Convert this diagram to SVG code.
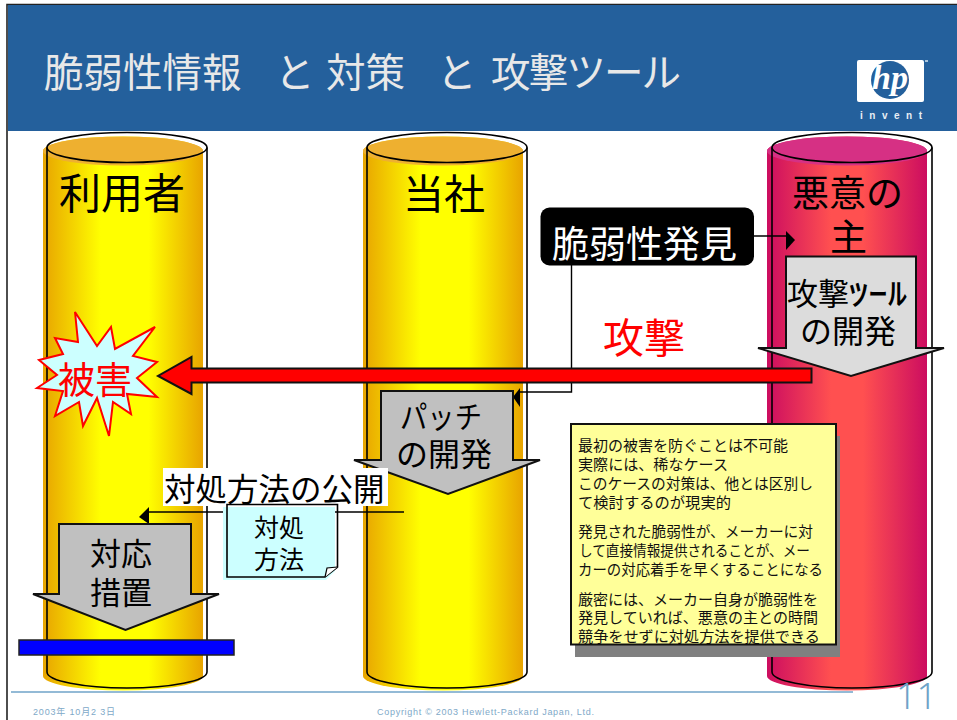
<svg xmlns="http://www.w3.org/2000/svg" width="957" height="720" viewBox="0 0 957 720">
<style>
text{font-family:"Noto Sans CJK JP","Liberation Sans",sans-serif;fill:#000}
.o{fill:none;stroke:#000;stroke-width:1.6}
.ga{fill:#c0c0c0;stroke:#111;stroke-width:2}
.line{fill:none;stroke:#000;stroke-width:1.4}
.note{font-size:15px;fill:#111}
.foot{font-family:"Liberation Sans","Noto Sans CJK JP",sans-serif;font-size:9px;fill:#80a9c8}
</style>
<defs>
<linearGradient id="y"><stop offset="0" stop-color="#e8a400"/><stop offset=".36" stop-color="#ffff00"/><stop offset=".66" stop-color="#ffff00"/><stop offset="1" stop-color="#e8a400"/></linearGradient>
<linearGradient id="r"><stop offset="0" stop-color="#cc0d60"/><stop offset=".4" stop-color="#ff5050"/><stop offset=".6" stop-color="#ff5050"/><stop offset="1" stop-color="#cc0d60"/></linearGradient>
</defs>
<rect width="957" height="720" fill="#fff"/>
<path d="M7 720V4.500H957" fill="none" stroke="#222" stroke-width="1.600"/>
<rect x="8" y="5" width="949" height="126" fill="#24609c"/>
<text id="title" y="87" font-size="39.500" style="fill:#e8e8e8"><tspan x="44">脆弱性情報 </tspan><tspan x="275">と </tspan><tspan x="326">対策 </tspan><tspan x="437">と </tspan><tspan x="491" textLength="190">攻撃ツール</tspan></text>
<g id="logo">
<rect x="857" y="60" width="67" height="42" rx="2" fill="#fff"/>
<circle cx="890" cy="80" r="19" fill="#24609c"/>
<text x="890" y="89" text-anchor="middle" font-size="34" font-weight="700" font-style="italic" style="font-family:'Liberation Serif',serif;fill:#fff">hp</text>
<rect x="925" y="60" width="3" height="2" fill="#a8c4dc"/>
<text x="860" y="119" font-size="10" font-weight="700" textLength="62" style="font-family:'Liberation Sans',sans-serif;fill:#e8eef4">invent</text>
</g>
<g id="cyl-user">
<path d="M43 151A80 14.500 0 0 1 203 151V676A80 14.500 0 0 1 43 676Z" fill="url(#y)"/>
<ellipse cx="123" cy="151" rx="80" ry="14.500" fill="#eeb030"/>
<path class="o" d="M47 147.500V672A80 16 0 0 0 207 672V147.500"/>
<ellipse class="o" cx="127" cy="147.500" rx="80" ry="15"/>
<text x="59" y="209" font-size="42">利用者</text>
</g>
<g id="cyl-company">
<path d="M363 151A80 14.500 0 0 1 523 151V676A80 14.500 0 0 1 363 676Z" fill="url(#y)"/>
<ellipse cx="443" cy="151" rx="80" ry="14.500" fill="#eeb030"/>
<path class="o" d="M367 147.500V672A80 16 0 0 0 527 672V147.500"/>
<ellipse class="o" cx="447" cy="147.500" rx="80" ry="15"/>
<text x="403" y="209" font-size="41">当社</text>
</g>
<g id="cyl-attacker">
<path d="M767 151A80 14.500 0 0 1 927 151V676A80 14.500 0 0 1 767 676Z" fill="url(#r)"/>
<ellipse cx="847" cy="151" rx="80" ry="14.500" fill="#d63084"/>
<path class="o" d="M772 147.500V672A80 16 0 0 0 932 672V147.500"/>
<ellipse class="o" cx="852" cy="147.500" rx="80" ry="15"/>
<text x="792" y="207" font-size="37">悪意の</text>
<text x="830" y="251" font-size="37">主</text>
</g>
<g id="tool-dev">
<path d="M786 256.500H916V348H944L851 376L758 348H786Z" fill="#dcdcdc" stroke="#111" stroke-width="2"/>
<text x="787" y="305" font-size="31">攻撃<tspan textLength="58" lengthAdjust="spacingAndGlyphs" font-weight="500">ﾂｰﾙ</tspan></text>
<text x="800" y="343" font-size="32">の開発</text>
</g>
<g id="connectors">
<path class="line" d="M754 236H787"/>
<path d="M786 231L795 240L786 250Z" fill="#000"/>
<path class="line" d="M571.500 265V392H519"/>
<path d="M520 388V407L513 397Z" fill="#000"/>
<path class="line" d="M404 512H148"/>
<path d="M149 507V524L139 517Z" fill="#000"/>
</g>
<g id="discovery">
<rect x="540.500" y="207.500" width="213.500" height="58" rx="9" fill="#000"/>
<text x="552" y="258" font-size="37" style="fill:#fff">脆弱性発見</text>
</g>
<g id="attack-arrow">
<path d="M811.500 368.500H191.500V357L158 376L191.500 394V382.500H811.500Z" fill="#f00" stroke="#111" stroke-width="2"/>
<text x="603" y="353" font-size="41" style="fill:#f00">攻撃</text>
</g>
<g id="damage">
<path fill="#ccffff" stroke="#f00" stroke-width="2" d="M75 312L97 346L111 327L115 349L155 327L133 356L157 362L137 378L157 397L127 394L131 414L113 402L109 436L97 398L83 426L79 402L55 416L63 391L37 388L57 375L39 360L63 354L55 338L78 342Z"/>
<text x="58" y="394" font-size="37" style="fill:#f00">被害</text>
</g>
<g id="patch">
<path class="ga" d="M381 391H513V460H540L448 494L354 460H381Z"/>
<text x="400" y="428" font-size="31" textLength="82" lengthAdjust="spacingAndGlyphs">パッチ</text>
<text x="396" y="466" font-size="32">の開発</text>
</g>
<g id="response">
<path class="ga" d="M59 524H191V594H219L125.500 630L33 594H59Z"/>
<text x="90" y="565" font-size="31">対応</text>
<text x="90" y="604" font-size="31">措置</text>
</g>
<rect id="bar" x="19" y="640" width="215" height="15" fill="#00f" stroke="#222" stroke-width="1.500"/>
<g id="publish">
<rect x="163" y="468" width="225" height="38" fill="#fff"/>
<text x="164" y="501" font-size="31.500">対処方法の公開</text>
</g>
<g id="doc">
<path d="M223 507H335V571L326 580H223Z" fill="#ccffff"/>
<path class="o" d="M227 504.500H337.500V567L325 577H227Z"/>
<path d="M325 577L327 568L337.500 567" fill="#fff" stroke="#000" stroke-width="1.200"/>
<text x="254" y="537" font-size="25">対処</text>
<text x="254" y="569" font-size="25">方法</text>
</g>
<g id="note">
<rect x="575" y="436" width="265" height="221" fill="#808080"/>
<rect x="571" y="424" width="265" height="220.500" fill="#ffff99" stroke="#111" stroke-width="2"/>
<text class="note" x="578" y="451" textLength="210" lengthAdjust="spacingAndGlyphs">最初の被害を防ぐことは不可能</text>
<text class="note" x="578" y="470" textLength="150" lengthAdjust="spacingAndGlyphs">実際には、稀なケース</text>
<text class="note" x="578" y="489" textLength="235" lengthAdjust="spacingAndGlyphs">このケースの対策は、他とは区別し</text>
<text class="note" x="578" y="508" textLength="153" lengthAdjust="spacingAndGlyphs">て検討するのが現実的</text>
<text class="note" x="578" y="537" textLength="235" lengthAdjust="spacingAndGlyphs">発見された脆弱性が、メーカーに対</text>
<text class="note" x="579" y="556" textLength="231" lengthAdjust="spacingAndGlyphs">して直接情報提供されることが、メー</text>
<text class="note" x="578" y="575" textLength="245" lengthAdjust="spacingAndGlyphs">カーの対応着手を早くすることになる</text>
<text class="note" x="578" y="605" textLength="240" lengthAdjust="spacingAndGlyphs">厳密には、メーカー自身が脆弱性を</text>
<text class="note" x="578" y="623" textLength="240" lengthAdjust="spacingAndGlyphs">発見していれば、悪意の主との時間</text>
<text class="note" x="578" y="642" textLength="242" lengthAdjust="spacingAndGlyphs">競争をせずに対処方法を提供できる</text>
</g>
<g id="footer">
<path d="M11 692H853" stroke="#6fa3c8" stroke-width="1.600" fill="none"/>
<text x="896" y="709" font-size="36" font-weight="300" style="font-family:'Noto Sans','Liberation Sans',sans-serif;fill:#6fa3c8">11</text>
<text class="foot" x="33" y="715" textLength="82">2003年 10月2 3日</text>
<text class="foot" x="377" y="715" textLength="217">Copyright © 2003 Hewlett-Packard Japan, Ltd.</text>
</g>
</svg>
